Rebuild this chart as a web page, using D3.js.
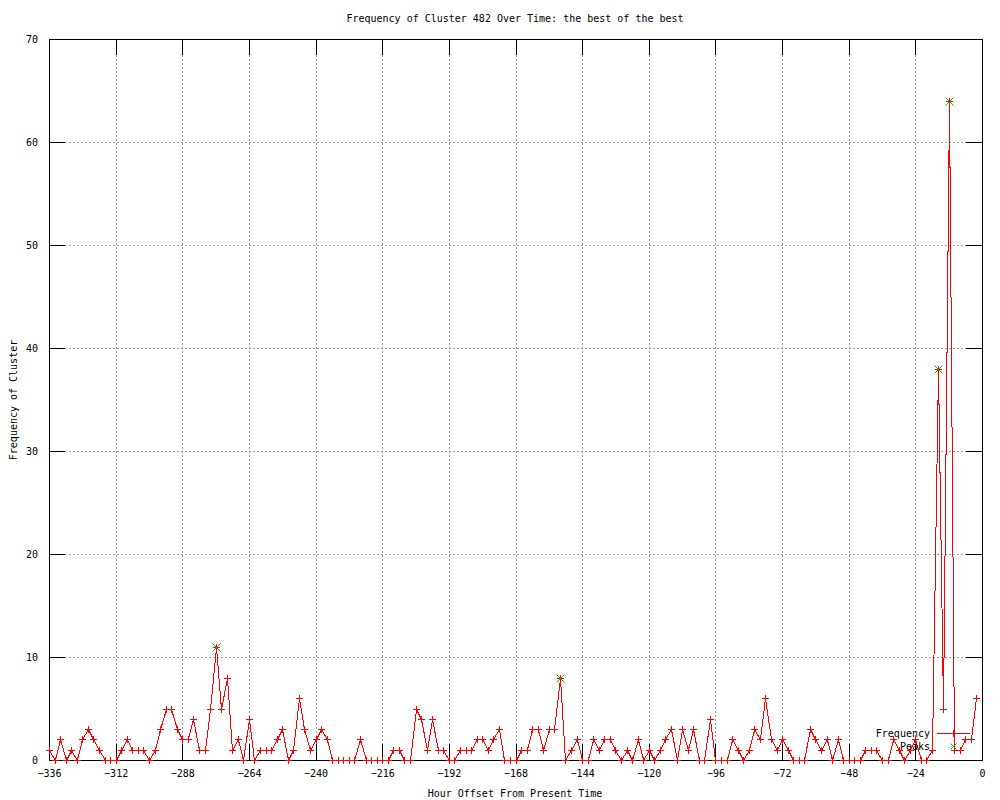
<!DOCTYPE html>
<html>
<head>
<meta charset="utf-8">
<script src="https://cdn.jsdelivr.net/npm/d3@7"></script>
<style>
  body { margin: 0; background: #fff; }
  text { font-family: "DejaVu Sans Mono", monospace; font-size: 10px; fill: #000; }
</style>
</head>
<body>
<svg id="chart" width="1000" height="800"></svg>
<script>
// data, one value every 2 hours from -336 to -2
var hours = d3.range(-336, 0, 2);
var freq = [
    1,0,2,0,1,0,2,3,2,1,0,0,0,
    1,2,1,1,1,0,1,3,5,5,3,2,2,4,1,1,
    5,11,5,8,1,2,0,4,0,1,1,1,2,3,0,1,6,3,1,2,3,2,0,0,0,0,0,
    2,0,0,0,0,0,1,1,0,0,5,4,1,4,1,1,0,0,1,1,1,2,2,1,2,3,0,0,0,1,
    1,3,3,1,3,3,8,0,1,2,0,0,2,1,2,2,1,0,1,0,2,0,1,0,1,2,3,0,3,
    1,3,0,0,4,0,0,0,2,1,0,1,3,2,6,2,1,2,1,0,0,0,3,2,1,2,0,2,0,
    0,0,0,1,1,1,0,0,2,1,0,1,2,0,0,1,38,5,64,1,1,2,2,6
];
var peakHours = [-276, -152, -16, -12];
var peakValues = [11, 8, 38, 64];

var xTicks = [-336, -312, -288, -264, -240, -216, -192, -168, -144, -120, -96, -72, -48, -24, 0];
var yTicks = [0, 10, 20, 30, 40, 50, 60, 70];

var plotLeft = 49, plotRight = 982, plotTop = 39, plotBottom = 760;
var tickLen = 16;

var svg = d3.select('#chart');

var x = d3.scaleLinear().domain([-336, 0]).range([plotLeft, plotRight]);
var y = d3.scaleLinear().domain([0, 70]).range([plotBottom, plotTop]);

// grid

var grid = svg.append('g')
    .attr('stroke', '#a0a0a0')
    .attr('stroke-dasharray', '2,2')
    .attr('shape-rendering', 'crispEdges');

grid.selectAll('.gx')
    .data(xTicks.slice(1, -1))
    .enter().append('line')
    .attr('x1', d => Math.round(x(d)) + 0.5)
    .attr('x2', d => Math.round(x(d)) + 0.5)
    .attr('y1', plotTop)
    .attr('y2', plotBottom);

grid.selectAll('.gy')
    .data(yTicks.slice(1, -1))
    .enter().append('line')
    .attr('y1', d => Math.round(y(d)) + 0.5)
    .attr('y2', d => Math.round(y(d)) + 0.5)
    .attr('x1', plotLeft)
    .attr('x2', plotRight);

// axes, ticks pointing inwards on all four sides

let xAxis = d3.axisBottom(x).tickValues(xTicks).tickSizeInner(-tickLen).tickSizeOuter(0).tickPadding(10);
let yAxis = d3.axisLeft(y).tickValues(yTicks).tickSizeInner(-tickLen).tickSizeOuter(0).tickPadding(11);

svg.append('g')
    .attr('transform', `translate(0 ${plotBottom})`)
    .call(xAxis);

svg.append('g')
    .attr('transform', `translate(${plotLeft} 0)`)
    .call(yAxis);

svg.append('g')
    .attr('transform', `translate(0 ${plotTop})`)
    .call(d3.axisTop(x).tickValues(xTicks).tickSizeInner(-tickLen).tickSizeOuter(0).tickFormat(''));

svg.append('g')
    .attr('transform', `translate(${plotRight} 0)`)
    .call(d3.axisRight(y).tickValues(yTicks).tickSizeInner(-tickLen).tickSizeOuter(0).tickFormat(''));

svg.selectAll('.domain, .tick line')
    .attr('stroke', '#000')
    .attr('shape-rendering', 'crispEdges');

svg.selectAll('.tick text')
    .style('font-family', '"DejaVu Sans Mono", monospace')
    .style('font-size', '10px')
    .attr('fill', '#000');

// series

var plus = 'M-3.5,0H3.5M0,-3.5V3.5';
var cross = 'M-4,-4L4,4M-4,4L4,-4';

var line = d3.line()
    .x((d, i) => Math.round(x(hours[i])) + 0.5)
    .y(d => Math.round(y(d)) + 0.5);

svg.append('path')
    .datum(freq)
    .attr('d', line)
    .attr('fill', 'none')
    .attr('stroke', '#ff0000')
    .attr('stroke-width', 1)
    .attr('shape-rendering', 'crispEdges');

svg.append('g')
    .selectAll('path')
    .data(freq)
    .enter().append('path')
    .attr('transform', (d, i) => `translate(${Math.round(x(hours[i])) + 0.5} ${Math.round(y(d)) + 0.5})`)
    .attr('d', plus)
    .attr('stroke', '#ff0000')
    .attr('fill', 'none')
    .attr('shape-rendering', 'crispEdges');

svg.append('g')
    .selectAll('path')
    .data(peakValues)
    .enter().append('path')
    .attr('transform', (d, i) => `translate(${Math.round(x(peakHours[i])) + 0.5} ${Math.round(y(d)) + 0.5})`)
    .attr('d', cross)
    .attr('stroke', '#00c000')
    .attr('fill', 'none');

// legend

var legend = svg.append('g');

legend.append('text')
    .attr('x', 930).attr('y', 733).attr('dy', '0.35em')
    .attr('text-anchor', 'end')
    .text('Frequency');

legend.append('line')
    .attr('x1', 937).attr('x2', 970)
    .attr('y1', 733.5).attr('y2', 733.5)
    .attr('stroke', '#ff0000')
    .attr('shape-rendering', 'crispEdges');

legend.append('path')
    .attr('transform', 'translate(953.5 733.5)')
    .attr('d', plus)
    .attr('stroke', '#ff0000')
    .attr('shape-rendering', 'crispEdges');

legend.append('text')
    .attr('x', 930).attr('y', 746).attr('dy', '0.35em')
    .attr('text-anchor', 'end')
    .text('Peaks');

legend.append('path')
    .attr('transform', 'translate(953.5 746.5)')
    .attr('d', 'M-3,-3L3,3M-3,3L3,-3')
    .attr('stroke', '#00c000');

// titles

svg.append('text')
    .attr('x', 515).attr('y', 22)
    .attr('text-anchor', 'middle')
    .text('Frequency of Cluster 482 Over Time: the best of the best');

svg.append('text')
    .attr('x', 515).attr('y', 797)
    .attr('text-anchor', 'middle')
    .text('Hour Offset From Present Time');

svg.append('text')
    .attr('transform', 'translate(17 400) rotate(-90)')
    .attr('text-anchor', 'middle')
    .text('Frequency of Cluster');
</script>
</body>
</html>
